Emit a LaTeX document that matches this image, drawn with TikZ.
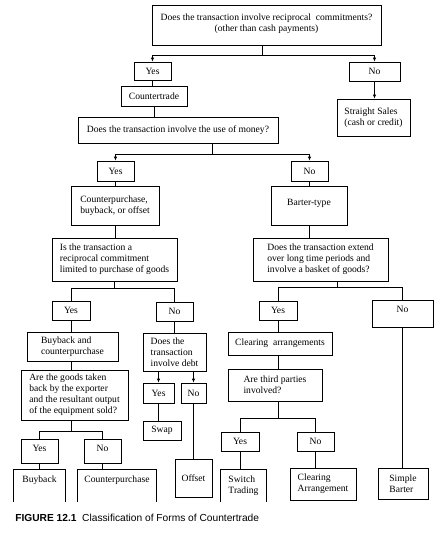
\documentclass[tikz,border=0pt]{standalone}
\usepackage{fontspec}
\setmainfont{Liberation Serif}
\newfontfamily\capfont{Liberation Sans}
\usetikzlibrary{arrows.meta}
\tikzset{
  sz/.style 2 args={minimum width=#1pt, minimum height=#2pt},
  box/.style={draw, align=left, inner sep=1pt, font=\fontsize{9.6}{11}\selectfont},
  openbox/.style={align=left, inner sep=1pt, text depth=14pt, font=\fontsize{9.6}{11}\selectfont},
  arr/.style={-{Latex[length=4pt,width=3.5pt]}}
}
\begin{document}
\begin{tikzpicture}[x=1pt,y=-1pt,line width=0.7pt]
\useasboundingbox (0,0) rectangle (442,541);
\node[box,sz={229}{40},align=center,text depth=5pt] (q1) at (266.5,25) {Does the transaction involve reciprocal~ commitments?\\(other than cash payments)};
\node[box,sz={37}{18}] (yes1) at (152.5,71) {Yes};
\node[box,sz={51}{19}] (no1) at (374.5,71.5) {No};
\node[box,sz={66}{20}] (ct) at (154,96) {Countertrade};
\node[box,sz={73}{37}] (ss) at (373.5,117.5) {Straight Sales\\(cash or credit)};
\node[box,sz={200}{26}] (money) at (178,130) {Does the transaction involve the use of money?};
\node[box,sz={37}{20}] (yes2) at (115.5,171) {Yes};
\node[box,sz={37}{20}] (no2) at (309.5,171) {No};
\node[box,sz={88}{39}] (cbo) at (115,205.5) {Counterpurchase,\\buyback, or offset};
\node[box,sz={76}{39},text depth=6pt] (barter) at (309,205.5) {Barter-type};
\node[box,sz={125}{43}] (recip) at (114.5,259.5) {Is the transaction a\\reciprocal commitment\\limited to purchase of goods};
\node[box,sz={135}{43}] (extend) at (320.5,259.5) {Does the transaction extend\\over long time periods and\\involve a basket of goods?};
\node[box,sz={38}{19}] (yes3) at (71,310.5) {Yes};
\node[box,sz={37}{19}] (no3) at (174.5,311.5) {No};
\node[box,sz={38}{19}] (yes4) at (278,310.5) {Yes};
\node[box,sz={61}{27},text depth=8pt] (no4) at (402.5,313.5) {No};
\node[box,sz={91}{29}] (bcp) at (72.5,346.5) {Buyback and\\counterpurchase};
\node[box,sz={63}{38}] (debt) at (174.5,352) {Does the\\transaction\\involve debt};
\node[box,sz={104}{23}] (clear) at (280,343.5) {Clearing~ arrangements};
\node[box,sz={107}{50}] (goods) at (74.5,395) {Are the goods taken\\back by the exporter\\and the resultant output\\of the equipment sold?};
\node[box,sz={31}{20}] (yes5) at (158.5,393) {Yes};
\node[box,sz={25}{20}] (no5) at (193.5,393) {No};
\node[box,sz={94}{32}] (third) at (275,385) {Are third parties\\involved?};
\node[box,sz={38}{19}] (swap) at (162,430.5) {Swap};
\node[box,sz={37}{24},text depth=6pt] (yes6) at (39.5,451) {Yes};
\node[box,sz={37}{24},text depth=6pt] (no6) at (102.5,451) {No};
\node[box,sz={38}{19}] (yes7) at (240,441.5) {Yes};
\node[box,sz={37}{19}] (no7) at (315.5,441.5) {No};
\node[box,sz={37}{38}] (offset) at (193.5,478) {Offset};
\node[openbox,sz={51}{32}] (buyback) at (39.5,486) {Buyback};
\node[openbox,sz={78}{32}] (counterp) at (117,486) {Counterpurchase};
\node[openbox,sz={45}{32},text depth=3pt] (switch) at (243.5,486) {Switch\\Trading};
\node[box,sz={66}{32}] (cla) at (323,484) {Clearing\\Arrangement};
\node[box,sz={50}{31}] (sb) at (403,483.5) {Simple\\Barter};
\draw (buyback.south west) |- (buyback.north) -| (buyback.south east);
\draw (counterp.south west) |- (counterp.north) -| (counterp.south east);
\draw (switch.south west) |- (switch.north) -| (switch.south east);
\node[anchor=west,inner sep=0pt,font=\capfont\fontsize{10.2}{12}\selectfont] (cap) at (15,518) {\textbf{FIGURE 12.1}\ \ Classification of Forms of Countertrade};
\coordinate (s1) at ([xshift=-4.5pt]q1.south);
\coordinate (s2) at ([xshift=34pt]money.south);
\coordinate (s3) at ([xshift=-3.5pt]goods.south);
\coordinate (s4) at ([xshift=16.5pt]extend.south);
\coordinate (s5) at ([xshift=3pt]third.south);
\coordinate (s6) at ([xshift=-1.5pt]bcp.south);
\coordinate (s7) at ([xshift=-2pt]clear.south);
\draw[arr] (s1) |- ([yshift=6pt]yes1.north) -- (yes1.north);
\draw[arr] (s1) |- ([yshift=6pt]no1.north) -- (no1.north);
\draw (yes1.south) -- (yes1.south |- ct.north);
\draw[arr] (no1.south) -- (no1.south |- ss.north);
\draw (ct.south) -- (ct.south |- money.north);
\draw[arr] (s2) |- ([yshift=6pt]yes2.north) -- (yes2.north);
\draw[arr] (s2) |- ([yshift=6pt]no2.north) -- (no2.north);
\draw (yes2.south) -- (yes2.south |- cbo.north);
\draw (cbo.south) -- (cbo.south |- recip.north);
\draw (recip.south) |- ([yshift=12pt]yes3.north) -- (yes3.north);
\draw (recip.south) |- ([yshift=13pt]no3.north) -- (no3.north);
\draw (yes3.south) -- (yes3.south |- bcp.north);
\draw (no3.south) -- (no3.south |- debt.north);
\draw (s6) -- (s6 |- goods.north);
\draw (s3) |- ([yshift=7pt]yes6.north) -- (yes6.north);
\draw (s3) |- ([yshift=7pt]no6.north) -- (no6.north);
\draw (yes6.south) -- (yes6.south |- buyback.north);
\draw (no6.south) -- (no6.south |- counterp.north);
\draw[arr] (yes5.north |- debt.south) -- (yes5.north);
\draw[arr] (no5.north |- debt.south) -- (no5.north);
\draw (yes5.south) -- (yes5.south |- swap.north);
\draw (no5.south) -- (no5.south |- offset.north);
\draw (no2.south) -- (no2.south |- barter.north);
\draw (barter.south) -- (barter.south |- extend.north);
\draw (s4) |- ([yshift=13pt]yes4.north) -- (yes4.north);
\draw (s4) |- ([yshift=12pt]no4.north) -- (no4.north);
\draw (yes4.south) -- (yes4.south |- clear.north);
\draw (no4.south) -- (no4.south |- sb.north);
\draw (s7) -- (s7 |- third.north);
\draw (s5) |- ([yshift=13pt]yes7.north) -- (yes7.north);
\draw (s5) |- ([yshift=13pt]no7.north) -- (no7.north);
\draw (yes7.south) -- (yes7.south |- switch.north);
\draw (no7.south) -- (no7.south |- cla.north);
\end{tikzpicture}
\end{document}
